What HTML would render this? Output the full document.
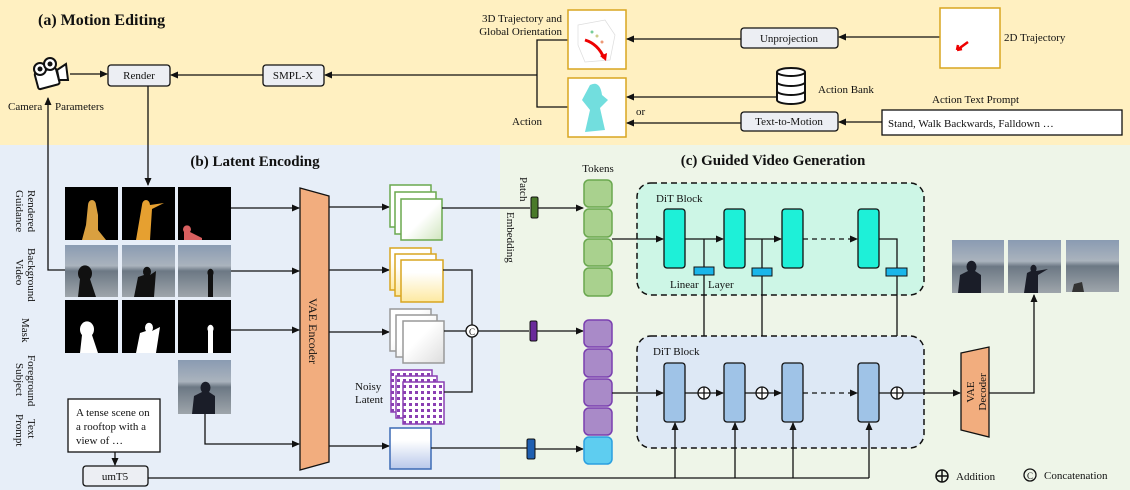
<!DOCTYPE html>
<html><head><meta charset="utf-8"><style>
html,body{margin:0;padding:0;background:#fff}
svg{display:block}
text{font-family:"Liberation Serif",serif;fill:#111}
</style></head><body>
<svg width="1130" height="490" viewBox="0 0 1130 490" xmlns="http://www.w3.org/2000/svg">
<defs>
<marker id="ar" markerWidth="8" markerHeight="8" refX="7" refY="4" orient="auto" markerUnits="userSpaceOnUse"><path d="M0,0.5 L8,4 L0,7.5 z" fill="#111"/></marker>
<linearGradient id="gg" x1="0" y1="0" x2="1" y2="1"><stop offset="0.5" stop-color="#fff"/><stop offset="1" stop-color="#cfe5bd"/></linearGradient>
<linearGradient id="gy" x1="0" y1="0" x2="0" y2="1"><stop offset="0.3" stop-color="#fff"/><stop offset="1" stop-color="#fde9a0"/></linearGradient>
<linearGradient id="gw" x1="0" y1="0" x2="1" y2="1"><stop offset="0.4" stop-color="#fff"/><stop offset="1" stop-color="#ddd"/></linearGradient>
<linearGradient id="gb" x1="0" y1="0" x2="0" y2="1"><stop offset="0.3" stop-color="#fff"/><stop offset="1" stop-color="#b8c8ea"/></linearGradient>
<linearGradient id="bg" x1="0" y1="0" x2="0" y2="1"><stop offset="0" stop-color="#8a9bb2"/><stop offset="0.4" stop-color="#aab3bd"/><stop offset="0.5" stop-color="#6c7884"/><stop offset="1" stop-color="#9ea5ab"/></linearGradient>
<pattern id="dots" width="6" height="6" patternUnits="userSpaceOnUse"><rect width="6" height="6" fill="#fff"/><rect x="1" y="1" width="3" height="3" fill="#8a3fb3"/></pattern>
</defs>

<rect x="0" y="0" width="1130" height="145" fill="#fff0c1"/>
<rect x="0" y="145" width="500" height="345" fill="#e7eef8"/>
<rect x="500" y="145" width="630" height="345" fill="#eef5e8"/>

<text x="38" y="25" font-size="16" font-weight="bold">(a) Motion Editing</text>
<g stroke="#111" stroke-width="2" fill="#fff">
<rect x="36" y="70" width="22" height="17" rx="2" transform="rotate(-15 47 78)"/>
<path d="M57,70 L66,64 L68,80 L59,80 z"/>
<circle cx="40" cy="69" r="6"/><circle cx="50" cy="64" r="6"/>
</g>
<circle cx="40" cy="69" r="2.5" fill="#111"/><circle cx="50" cy="64" r="2.5" fill="#111"/>
<line x1="70" y1="74" x2="107" y2="74" stroke="#111" stroke-width="1.3" marker-end="url(#ar)"/>
<text x="8" y="110" font-size="11">Camera</text><text x="55" y="110" font-size="11">Parameters</text>
<polyline points="65,270 48,270 48,98" fill="none" stroke="#111" stroke-width="1.3" marker-end="url(#ar)"/>

<rect x="108" y="65" width="62" height="21" rx="3" fill="#eceef3" stroke="#111" stroke-width="1.3"/>
<text x="139" y="79" font-size="11" text-anchor="middle">Render</text>
<rect x="263" y="65" width="61" height="21" rx="3" fill="#eceef3" stroke="#111" stroke-width="1.3"/>
<text x="293" y="79" font-size="11" text-anchor="middle">SMPL-X</text>
<line x1="263" y1="75" x2="171" y2="75" stroke="#111" stroke-width="1.3" marker-end="url(#ar)"/>
<line x1="537" y1="75" x2="325" y2="75" stroke="#111" stroke-width="1.3" marker-end="url(#ar)"/>
<line x1="148" y1="86" x2="148" y2="185" stroke="#111" stroke-width="1.3" marker-end="url(#ar)"/>
<polyline points="568,40 537,40 537,107 568,107" fill="none" stroke="#111" stroke-width="1.3"/>

<text x="562" y="22" font-size="11" text-anchor="end">3D Trajectory and</text>
<text x="562" y="35" font-size="11" text-anchor="end">Global Orientation</text>
<text x="512" y="125" font-size="11">Action</text>
<rect x="568" y="10" width="58" height="59" fill="#fff" stroke="#d9a520" stroke-width="1.5"/>
<path d="M578,25 L605,20 L615,35 L610,60 L585,62 L578,45 z" fill="none" stroke="#ddd" stroke-width="0.7"/>
<path d="M585,40 Q598,44 604,58" fill="none" stroke="#e00" stroke-width="3"/>
<path d="M600,56 L606,61 L607,53 z" fill="#e00"/>
<circle cx="592" cy="32" r="1.5" fill="#7c9"/><circle cx="597" cy="36" r="1.5" fill="#cc8"/><circle cx="602" cy="42" r="1.5" fill="#e97"/>
<rect x="568" y="78" width="58" height="59" fill="#fff" stroke="#d9a520" stroke-width="1.5"/>
<path d="M590,85 Q600,80 602,95 L608,100 L600,108 L605,130 L585,132 L590,110 L582,100 z" fill="#4fd6d6" opacity="0.8"/>

<rect x="741" y="28" width="97" height="20" rx="3" fill="#eceef3" stroke="#111" stroke-width="1.3"/>
<text x="789" y="42" font-size="11" text-anchor="middle">Unprojection</text>
<line x1="940" y1="37" x2="839" y2="37" stroke="#111" stroke-width="1.3" marker-end="url(#ar)"/>
<line x1="741" y1="39" x2="627" y2="39" stroke="#111" stroke-width="1.3" marker-end="url(#ar)"/>
<rect x="940" y="8" width="60" height="60" fill="#fff" stroke="#d9a520" stroke-width="1.5"/>
<path d="M968,42 L957,50 M957,50 L958,45 M957,50 L962,49" stroke="#e00" stroke-width="2.5" fill="none"/>
<text x="1004" y="41" font-size="11">2D Trajectory</text>

<g stroke="#111" stroke-width="2" fill="#fff">
<path d="M777,72 v28 a14,4 0 0 0 28,0 v-28"/>
<ellipse cx="791" cy="72" rx="14" ry="4"/>
<path d="M777,82 a14,4 0 0 0 28,0 M777,91 a14,4 0 0 0 28,0"/>
</g>
<text x="818" y="93" font-size="11">Action Bank</text>
<line x1="777" y1="97" x2="627" y2="97" stroke="#111" stroke-width="1.3" marker-end="url(#ar)"/>
<text x="636" y="115" font-size="11">or</text>
<rect x="741" y="112" width="97" height="19" rx="3" fill="#eceef3" stroke="#111" stroke-width="1.3"/>
<text x="789" y="125" font-size="11" text-anchor="middle">Text-to-Motion</text>
<line x1="882" y1="122" x2="839" y2="122" stroke="#111" stroke-width="1.3" marker-end="url(#ar)"/>
<line x1="741" y1="123" x2="627" y2="123" stroke="#111" stroke-width="1.3" marker-end="url(#ar)"/>
<text x="932" y="103" font-size="11">Action Text Prompt</text>
<rect x="882" y="110" width="240" height="25" fill="#fff" stroke="#111" stroke-width="1.3"/>
<text x="888" y="127" font-size="11">Stand, Walk Backwards, Falldown …</text>

<text x="255" y="166" font-size="15" font-weight="bold" text-anchor="middle">(b) Latent Encoding</text>
<g font-size="11">
<text transform="translate(28,190) rotate(90)">Rendered</text>
<text transform="translate(16,190) rotate(90)">Guidance</text>
<text transform="translate(28,248) rotate(90)">Background</text>
<text transform="translate(16,259) rotate(90)">Video</text>
<text transform="translate(22,318) rotate(90)">Mask</text>
<text transform="translate(28,355) rotate(90)">Foreground</text>
<text transform="translate(16,363) rotate(90)">Subject</text>
<text transform="translate(28,419) rotate(90)">Text</text>
<text transform="translate(16,414) rotate(90)">Prompt</text>
</g>
<rect x="65" y="187" width="53" height="53" fill="#000"/>
<rect x="122" y="187" width="53" height="53" fill="#000"/>
<rect x="178" y="187" width="53" height="53" fill="#000"/>
<path d="M88,205 a4,5 0 1 1 8,0 l2,10 l0,15 l8,10 h-24 l4,-15 z" fill="#d9a040"/>
<path d="M142,205 a4,5 0 1 1 8,0 l14,-2 l-12,6 l-2,31 h-14 z" fill="#e6a030"/>
<path d="M184,232 a4,4 0 1 1 6,0 l12,6 l0,2 h-18 z" fill="#d86060"/>
<rect x="65" y="245" width="53" height="52" fill="url(#bg)"/>
<rect x="122" y="245" width="53" height="52" fill="url(#bg)"/>
<rect x="178" y="245" width="53" height="52" fill="url(#bg)"/>
<path d="M78,297 l2,-18 a7,8 0 1 1 10,0 l6,18 z" fill="#111"/>
<path d="M134,297 l4,-20 l6,-2 a4,5 0 1 1 6,0 l6,-4 l-2,26 z" fill="#111"/>
<path d="M208,297 l0,-22 a3,4 0 1 1 5,0 l0,22 z" fill="#111"/>
<rect x="65" y="300" width="53" height="53" fill="#000"/>
<rect x="122" y="300" width="53" height="53" fill="#000"/>
<rect x="178" y="300" width="53" height="53" fill="#000"/>
<path d="M80,353 l2,-18 a7,8 0 1 1 10,0 l6,18 z" fill="#fff"/>
<path d="M136,353 l4,-20 l6,-2 a4,5 0 1 1 6,0 l8,-4 l-4,26 z" fill="#fff"/>
<path d="M208,353 l0,-22 a3,4 0 1 1 5,0 l0,22 z" fill="#fff"/>
<rect x="178" y="360" width="53" height="54" fill="url(#bg)"/>
<path d="M192,414 l2,-18 l8,-4 a5,6 0 1 1 7,0 l6,4 l0,18 z" fill="#1a1d28"/>
<polyline points="205,414 205,444 299,444" fill="none" stroke="#111" stroke-width="1.3" marker-end="url(#ar)"/>
<rect x="68" y="399" width="92" height="53" fill="#fff" stroke="#111" stroke-width="1.3"/>
<text x="76" y="416" font-size="11">A tense scene on</text>
<text x="76" y="430" font-size="11">a rooftop with a</text>
<text x="76" y="444" font-size="11">view of …</text>
<line x1="115" y1="452" x2="115" y2="465" stroke="#111" stroke-width="1.3" marker-end="url(#ar)"/>
<rect x="83" y="466" width="65" height="20" rx="3" fill="#eceef3" stroke="#111" stroke-width="1.3"/>
<text x="115" y="480" font-size="11" text-anchor="middle">umT5</text>
<line x1="148" y1="478" x2="869" y2="478" stroke="#111" stroke-width="1.3"/>

<line x1="231" y1="208" x2="299" y2="208" stroke="#111" stroke-width="1.3" marker-end="url(#ar)"/>
<line x1="231" y1="271" x2="299" y2="271" stroke="#111" stroke-width="1.3" marker-end="url(#ar)"/>
<line x1="231" y1="330" x2="299" y2="330" stroke="#111" stroke-width="1.3" marker-end="url(#ar)"/>

<path d="M300,188 L329,196 L329,462 L300,470 z" fill="#f2ad7e" stroke="#111" stroke-width="1.3"/>
<text transform="translate(309,298) rotate(90)" font-size="12">VAE Encoder</text>

<line x1="329" y1="207" x2="389" y2="207" stroke="#111" stroke-width="1.3" marker-end="url(#ar)"/>
<line x1="329" y1="270" x2="389" y2="270" stroke="#111" stroke-width="1.3" marker-end="url(#ar)"/>
<line x1="329" y1="332" x2="389" y2="332" stroke="#111" stroke-width="1.3" marker-end="url(#ar)"/>
<line x1="329" y1="446" x2="389" y2="446" stroke="#111" stroke-width="1.3" marker-end="url(#ar)"/>

<g stroke="#6aa84f" stroke-width="1.5" fill="url(#gg)">
<rect x="390" y="185" width="41" height="42"/><rect x="395" y="192" width="41" height="42"/><rect x="401" y="199" width="41" height="41"/></g>
<g stroke="#d9a520" stroke-width="1.5" fill="url(#gy)">
<rect x="390" y="248" width="41" height="42"/><rect x="395" y="254" width="41" height="42"/><rect x="401" y="260" width="42" height="42"/></g>
<g stroke="#999" stroke-width="1.5" fill="url(#gw)">
<rect x="390" y="309" width="41" height="42"/><rect x="396" y="315" width="41" height="42"/><rect x="403" y="321" width="41" height="42"/></g>
<g stroke="#8a3fb3" stroke-width="1.5" fill="url(#dots)">
<rect x="391" y="370" width="41" height="42"/><rect x="396" y="376" width="41" height="42"/><rect x="403" y="382" width="41" height="42"/></g>
<rect x="390" y="428" width="41" height="41" fill="url(#gb)" stroke="#3d6bb5" stroke-width="1.5"/>
<text x="355" y="390" font-size="11">Noisy</text>
<text x="355" y="403" font-size="11">Latent</text>

<polyline points="443,270 472,270 472,392 444,392" fill="none" stroke="#111" stroke-width="1.3"/>
<line x1="444" y1="331" x2="529" y2="331" stroke="#111" stroke-width="1.3"/>
<circle cx="472" cy="331" r="6" fill="#fff" stroke="#111" stroke-width="1.3"/>
<text x="472" y="335" font-size="9" text-anchor="middle">C</text>
<line x1="442" y1="208" x2="530" y2="208" stroke="#111" stroke-width="1.3"/>
<line x1="431" y1="448" x2="527" y2="448" stroke="#111" stroke-width="1.3"/>

<text x="773" y="165" font-size="15" font-weight="bold" text-anchor="middle">(c) Guided Video Generation</text>
<text x="598" y="172" font-size="11" text-anchor="middle">Tokens</text>
<text transform="translate(520,177) rotate(90)" font-size="11">Patch</text>
<text transform="translate(507,212) rotate(90)" font-size="11">Embedding</text>
<rect x="531" y="197" width="7" height="21" rx="1.5" fill="#4a7a2a" stroke="#111"/>
<line x1="538" y1="208" x2="583" y2="208" stroke="#111" stroke-width="1.3" marker-end="url(#ar)"/>
<rect x="530" y="321" width="7" height="20" rx="1.5" fill="#6a2a9a" stroke="#111"/>
<line x1="537" y1="331" x2="583" y2="331" stroke="#111" stroke-width="1.3" marker-end="url(#ar)"/>
<rect x="527" y="439" width="8" height="20" rx="1.5" fill="#1f5fb0" stroke="#111"/>
<line x1="535" y1="449" x2="583" y2="449" stroke="#111" stroke-width="1.3" marker-end="url(#ar)"/>

<g stroke="#6aa84f" stroke-width="1.5" fill="#a9d18e">
<rect x="584" y="180" width="28" height="27" rx="5"/><rect x="584" y="209" width="28" height="28" rx="5"/><rect x="584" y="239" width="28" height="27" rx="5"/><rect x="584" y="268" width="28" height="28" rx="5"/></g>
<g stroke="#7a3fb0" stroke-width="1.5" fill="#a98ac8">
<rect x="584" y="320" width="28" height="27" rx="5"/><rect x="584" y="349" width="28" height="28" rx="5"/><rect x="584" y="379" width="28" height="27" rx="5"/><rect x="584" y="408" width="28" height="27" rx="5"/></g>
<rect x="584" y="437" width="28" height="27" rx="5" fill="#5ecdf0" stroke="#2aa0e0" stroke-width="1.5"/>

<rect x="637" y="183" width="287" height="112" rx="14" fill="#cdf6e6" stroke="#111" stroke-width="1.5" stroke-dasharray="6,4"/>
<text x="656" y="202" font-size="11">DiT Block</text>
<line x1="612" y1="239" x2="663" y2="239" stroke="#111" stroke-width="1.3" marker-end="url(#ar)"/>
<line x1="685" y1="239" x2="723" y2="239" stroke="#111" stroke-width="1.3" marker-end="url(#ar)"/>
<line x1="745" y1="239" x2="781" y2="239" stroke="#111" stroke-width="1.3" marker-end="url(#ar)"/>
<line x1="803" y1="239" x2="857" y2="239" stroke="#111" stroke-width="1.3" stroke-dasharray="5,4" marker-end="url(#ar)"/>
<polyline points="879,239 897,239 897,268" fill="none" stroke="#111" stroke-width="1.3"/>
<g fill="#1ef0d8" stroke="#111" stroke-width="1.3">
<rect x="664" y="209" width="21" height="59" rx="3"/><rect x="724" y="209" width="21" height="59" rx="3"/><rect x="782" y="209" width="21" height="59" rx="3"/><rect x="858" y="209" width="21" height="59" rx="3"/></g>
<line x1="704" y1="239" x2="704" y2="387" stroke="#111" stroke-width="1.3" marker-end="url(#ar)"/>
<line x1="762" y1="239" x2="762" y2="387" stroke="#111" stroke-width="1.3" marker-end="url(#ar)"/>
<line x1="897" y1="268" x2="897" y2="387" stroke="#111" stroke-width="1.3" marker-end="url(#ar)"/>
<g fill="#1ab6ea" stroke="#111" stroke-width="1"><rect x="694" y="267" width="20" height="8"/><rect x="752" y="268" width="20" height="8"/><rect x="886" y="268" width="21" height="8"/></g>
<text x="670" y="288" font-size="11">Linear</text><text x="708" y="288" font-size="11">Layer</text>

<rect x="637" y="336" width="287" height="112" rx="14" fill="#dde8f5" stroke="#111" stroke-width="1.5" stroke-dasharray="6,4"/>
<text x="653" y="355" font-size="11">DiT Block</text>
<line x1="612" y1="393" x2="663" y2="393" stroke="#111" stroke-width="1.3" marker-end="url(#ar)"/>
<line x1="685" y1="393" x2="723" y2="393" stroke="#111" stroke-width="1.3" marker-end="url(#ar)"/>
<line x1="745" y1="393" x2="781" y2="393" stroke="#111" stroke-width="1.3" marker-end="url(#ar)"/>
<line x1="803" y1="393" x2="857" y2="393" stroke="#111" stroke-width="1.3" stroke-dasharray="5,4" marker-end="url(#ar)"/>
<line x1="879" y1="393" x2="960" y2="393" stroke="#111" stroke-width="1.3" marker-end="url(#ar)"/>
<g fill="#9fc3e7" stroke="#111" stroke-width="1.3">
<rect x="664" y="363" width="21" height="59" rx="3"/><rect x="724" y="363" width="21" height="59" rx="3"/><rect x="782" y="363" width="21" height="59" rx="3"/><rect x="858" y="363" width="21" height="59" rx="3"/></g>
<g fill="#fff" stroke="#111" stroke-width="1.3">
<circle cx="704" cy="393" r="6"/><circle cx="762" cy="393" r="6"/><circle cx="897" cy="393" r="6"/></g>
<path d="M698,393 h12 M704,387 v12 M756,393 h12 M762,387 v12 M891,393 h12 M897,387 v12" stroke="#111" stroke-width="1.3"/>
<g stroke="#111" stroke-width="1.3" fill="none">
<line x1="675" y1="478" x2="675" y2="423" marker-end="url(#ar)"/>
<line x1="735" y1="478" x2="735" y2="423" marker-end="url(#ar)"/>
<line x1="793" y1="478" x2="793" y2="423" marker-end="url(#ar)"/>
<line x1="869" y1="478" x2="869" y2="423" marker-end="url(#ar)"/>
</g>

<path d="M961,353 L989,347 L989,437 L961,430 z" fill="#f2ad7e" stroke="#111" stroke-width="1.3"/>
<text transform="translate(974,392) rotate(-90)" font-size="11" text-anchor="middle">VAE</text>
<text transform="translate(986,392) rotate(-90)" font-size="11" text-anchor="middle">Decoder</text>
<polyline points="989,393 1034,393 1034,295" fill="none" stroke="#111" stroke-width="1.3" marker-end="url(#ar)"/>

<rect x="952" y="240" width="52" height="53" fill="url(#bg)"/>
<rect x="1008" y="240" width="53" height="53" fill="url(#bg)"/>
<rect x="1066" y="240" width="53" height="52" fill="url(#bg)"/>
<path d="M958,293 l2,-18 l8,-4 a5,6 0 1 1 7,0 l6,4 l0,18 z" fill="#1a1d28"/>
<path d="M1024,293 l3,-20 l4,-2 a3,4 0 1 1 5,0 l12,-2 l-10,6 l0,18 z" fill="#1a1d28"/>
<path d="M1072,292 l2,-8 l8,-2 l2,10 z" fill="#333"/>

<circle cx="942" cy="476" r="6" fill="none" stroke="#111" stroke-width="1.5"/>
<path d="M936,476 h12 M942,470 v12" stroke="#111" stroke-width="1.5"/>
<text x="956" y="480" font-size="11">Addition</text>
<circle cx="1030" cy="475" r="6" fill="none" stroke="#111" stroke-width="1.3"/>
<text x="1030" y="479" font-size="9" text-anchor="middle">C</text>
<text x="1044" y="479" font-size="11">Concatenation</text>
</svg>
</body></html>
